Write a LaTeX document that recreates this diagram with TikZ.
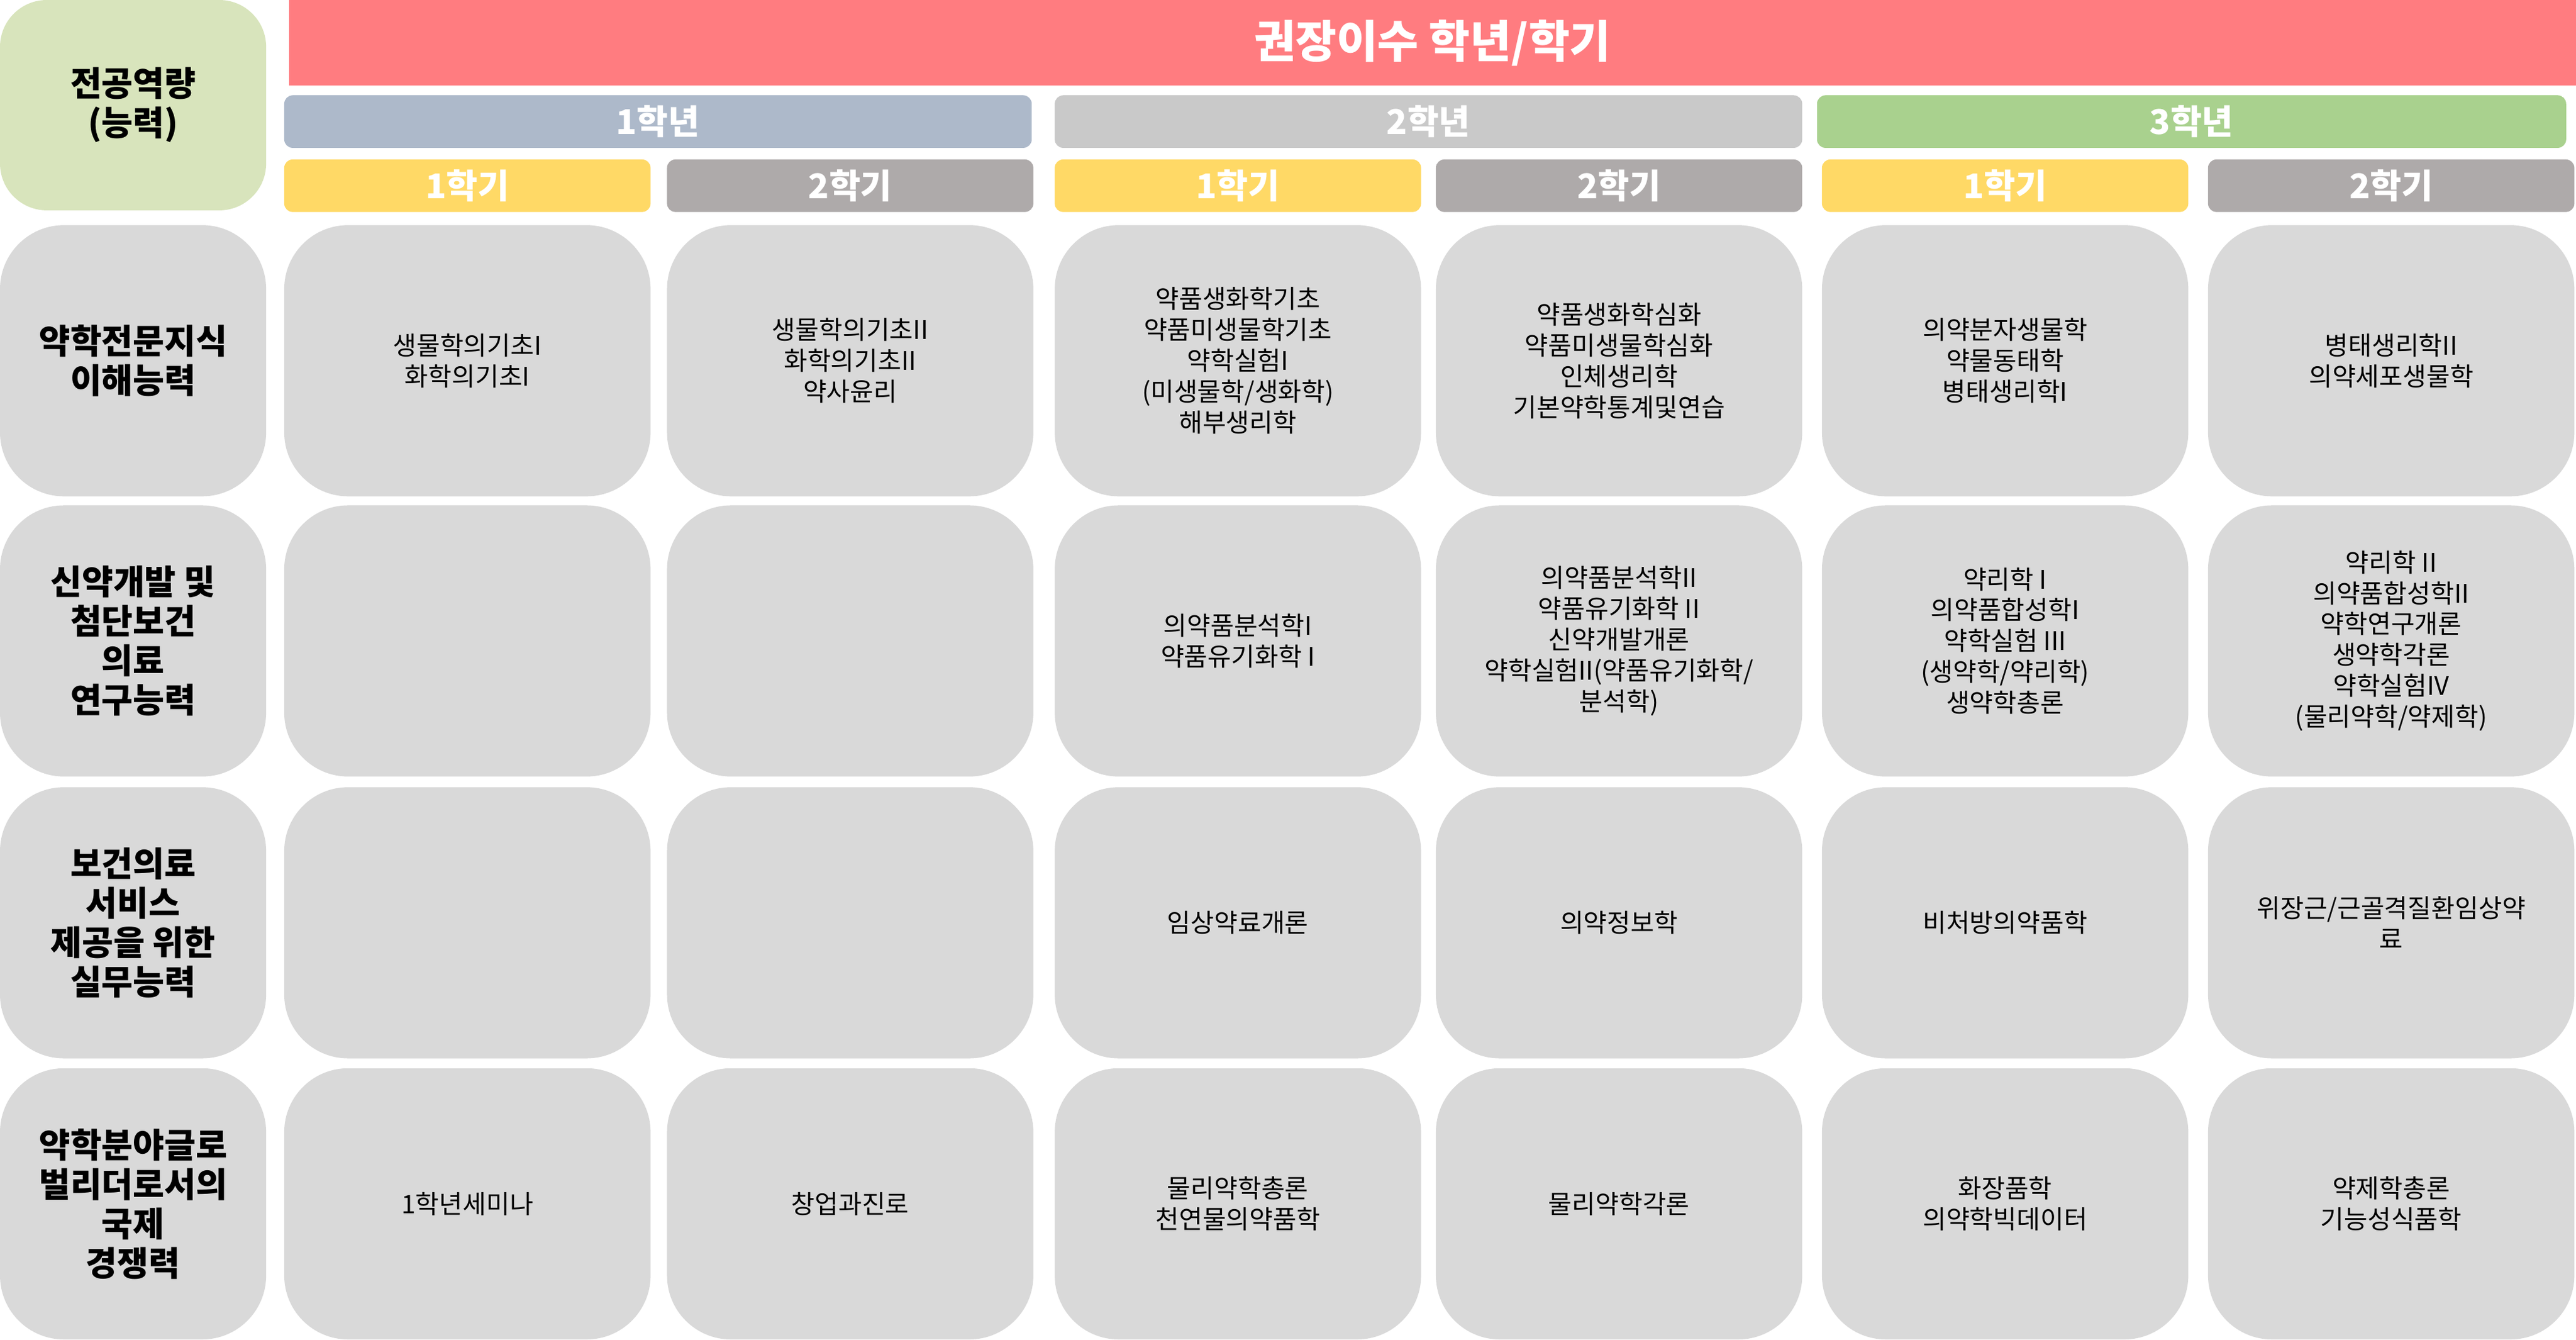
\documentclass[tikz,border=0pt]{standalone}
\usepackage{fontspec}
\setmainfont{Noto Sans CJK KR}
\definecolor{titlered}{HTML}{FF7C80}
\definecolor{yearone}{HTML}{ADB9CA}
\definecolor{yeartwo}{HTML}{C9C9C9}
\definecolor{yearthree}{HTML}{A9D18E}
\definecolor{semyellow}{HTML}{FFD966}
\definecolor{semgray}{HTML}{AEAAAA}
\definecolor{cellgray}{HTML}{D9D9D9}
\definecolor{headgreen}{HTML}{D8E4BC}
\tikzset{
  cell/.style = {fill=cellgray, rounded corners=30, inner sep=0pt, align=center, font=\fontsize{12}{14.5}\selectfont},
  comp/.style = {cell, font=\fontsize{16}{18.5}\selectfont\bfseries},
  bar/.style = {inner sep=0pt, text=white, font=\fontsize{16}{18}\selectfont\bfseries, rounded corners=4},
  course/.style = {align=center, font=\fontsize{12}{14.5}\selectfont}
}
\begin{document}
\begin{tikzpicture}[x=0.0271cm, y=-0.0271cm]
\useasboundingbox (0,0) rectangle (1568,815);
% header
\node[comp, fill=headgreen, rounded corners=22, minimum width=162*0.0271cm, minimum height=128*0.0271cm] (comp) at (81,64) {전공역량\\(능력)};
\node[bar, fill=titlered, rounded corners=0, font=\fontsize{21}{24}\selectfont\bfseries, minimum width=1392*0.0271cm, minimum height=52*0.0271cm] (title) at (872,26) {권장이수 학년/학기};
\node[bar, fill=yearone, minimum width=455*0.0271cm, minimum height=32*0.0271cm] (y1) at (400.5,74) {1학년};
\node[bar, fill=yeartwo, minimum width=455*0.0271cm, minimum height=32*0.0271cm] (y2) at (869.5,74) {2학년};
\node[bar, fill=yearthree, minimum width=456*0.0271cm, minimum height=32*0.0271cm] (y3) at (1334,74) {3학년};
% semesters
\foreach \i/\xc/\sem/\col in {1/284.5/1/semyellow, 2/517.5/2/semgray, 3/753.5/1/semyellow, 4/985.5/2/semgray, 5/1220.5/1/semyellow, 6/1455.5/2/semgray}
  \node[bar, fill=\col, minimum width=223*0.0271cm, minimum height=32*0.0271cm] (s\i) at (\xc,113) {{\sem}학기};
% competencies
\foreach \r/\yc/\txt in {1/219.5/{약학전문지식\\이해능력}, 2/390/{신약개발 및\\첨단보건\\의료\\연구능력}, 3/561.5/{보건의료\\서비스\\제공을 위한\\실무능력}, 4/732.5/{약학분야글로\\벌리더로서의\\국제\\경쟁력}}
  \node[comp, minimum width=162*0.0271cm, minimum height=165*0.0271cm] (c\r) at (81,\yc) {\txt};
% courses
\foreach \r/\yc in {1/219.5, 2/390, 3/561.5, 4/732.5}
  \foreach \i/\xc in {1/284.5, 2/517.5, 3/753.5, 4/985.5, 5/1220.5, 6/1455.5}
    \node[cell, minimum width=223*0.0271cm, minimum height=165*0.0271cm] (m\r\i) at (\xc,\yc) {};
\node[course] at (m11) {생물학의기초I\\화학의기초I};
\node[course] at (m12) {생물학의기초II\\화학의기초II\\약사윤리};
\node[course] at (m13) {약품생화학기초\\약품미생물학기초\\약학실험I\\(미생물학/생화학)\\해부생리학};
\node[course] at (m14) {약품생화학심화\\약품미생물학심화\\인체생리학\\기본약학통계및연습};
\node[course] at (m15) {의약분자생물학\\약물동태학\\병태생리학I};
\node[course] at (m16) {병태생리학II\\의약세포생물학};
\node[course] at (m23) {의약품분석학I\\약품유기화학 I};
\node[course] at (m24) {의약품분석학II\\약품유기화학 II\\신약개발개론\\약학실험II(약품유기화학/\\분석학)};
\node[course] at (m25) {약리학 I\\의약품합성학I\\약학실험 III\\(생약학/약리학)\\생약학총론};
\node[course] at (m26) {약리학 II\\의약품합성학II\\약학연구개론\\생약학각론\\약학실험IV\\(물리약학/약제학)};
\node[course] at (m33) {임상약료개론};
\node[course] at (m34) {의약정보학};
\node[course] at (m35) {비처방의약품학};
\node[course] at (m36) {위장근/근골격질환임상약\\료};
\node[course] at (m41) {1학년세미나};
\node[course] at (m42) {창업과진로};
\node[course] at (m43) {물리약학총론\\천연물의약품학};
\node[course] at (m44) {물리약학각론};
\node[course] at (m45) {화장품학\\의약학빅데이터};
\node[course] at (m46) {약제학총론\\기능성식품학};
\end{tikzpicture}
\end{document}
